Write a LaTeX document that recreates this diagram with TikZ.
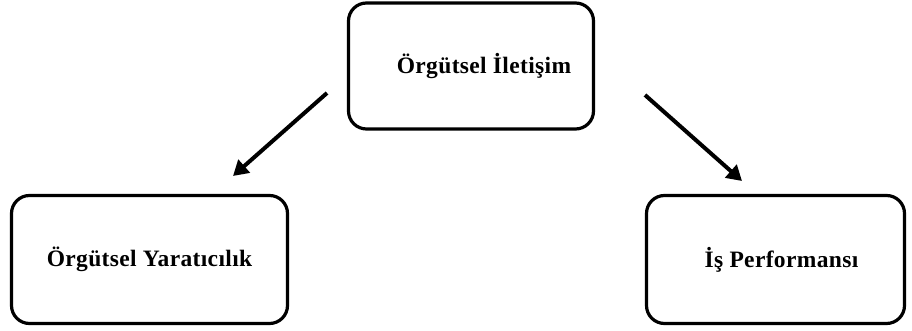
\documentclass[tikz,border=0pt]{standalone}
\usepackage{fontspec}
\setmainfont{Liberation Serif}
\usetikzlibrary{arrows.meta}
\tikzstyle{kutu}=[draw, rounded corners=18pt, line width=3.2pt, font=\fontsize{23.5}{28}\selectfont\bfseries\addfontfeature{LetterSpace=1.5}, align=center]
\tikzstyle{ok}=[line width=4pt, -{Triangle[length=15pt, width=17pt]}]

\begin{document}
\begin{tikzpicture}[x=1pt, y=1pt]
                \useasboundingbox (0,0) rectangle (912,331);
                \node[kutu, minimum width=245pt, minimum height=126pt] (iletisim) at (471, 265) {\hspace*{26pt}Örgütsel İletişim};
                \node[kutu, minimum width=276pt, minimum height=128pt] (yaraticilik) at (149.5, 71.5) {Örgütsel Yaratıcılık};
                \node[kutu, minimum width=258pt, minimum height=128pt] (performans) at (775.5, 71.5) {\hspace*{12pt}İş Performansı};
                \coordinate (y1) at (327, 238);
                \coordinate (y2) at (233, 155);
                \coordinate (p1) at (645, 236);
                \coordinate (p2) at (742, 150);
                \draw[ok] (y1)--(y2);
                \draw[ok] (p1)--(p2);
            \end{tikzpicture}
\end{document}
